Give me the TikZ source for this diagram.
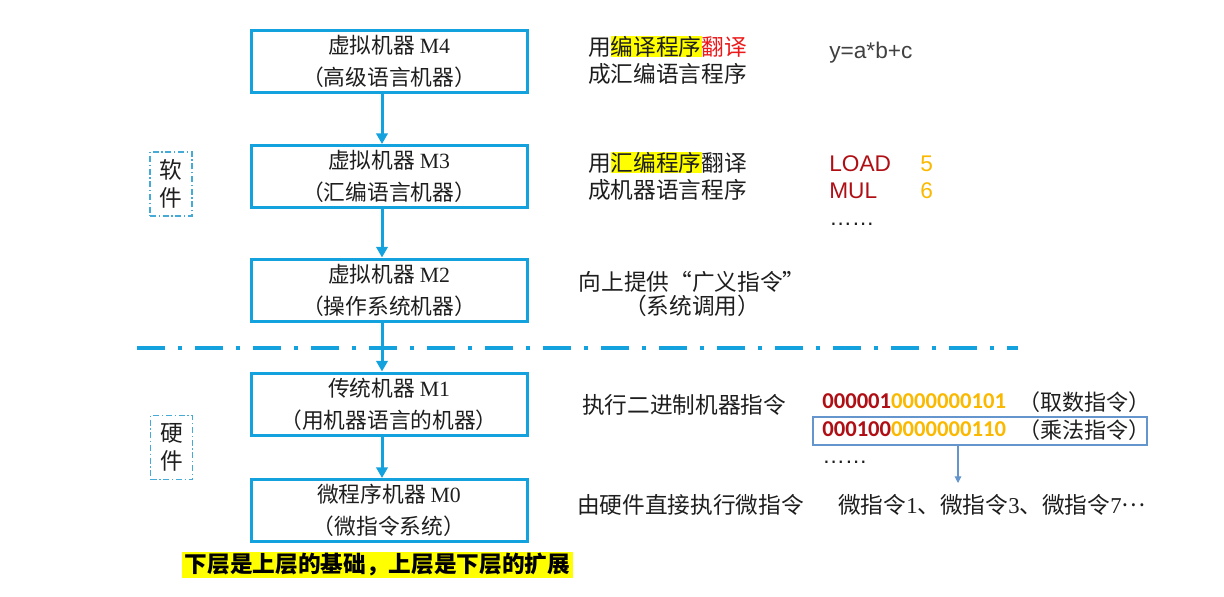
\documentclass[tikz,border=0pt]{standalone}
\usepackage{fontspec}
\setmainfont{Liberation Serif}
\newfontfamily\cjk{Noto Sans CJK SC}
\newfontfamily\lsans{Liberation Sans}
\newfontfamily\calib{Carlito}
\usetikzlibrary{arrows.meta}
\definecolor{boxblue}{RGB}{20,162,222}
\definecolor{softblue}{RGB}{70,170,215}
\definecolor{thinblue}{RGB}{100,150,205}
\definecolor{dred}{RGB}{175,15,20}
\definecolor{orng}{RGB}{250,185,0}
\definecolor{tred}{RGB}{235,25,25}
\definecolor{textgray}{RGB}{30,30,30}
\definecolor{hlyellow}{RGB}{255,255,0}
\newcommand\hlt[1]{{\setlength{\fboxsep}{0pt}\colorbox{hlyellow}{#1}}}
\begin{document}
\begin{tikzpicture}[x=0.75pt,y=-0.75pt,
  machine/.style={draw=boxblue,line width=2.25pt,minimum width=207pt,minimum height=46.5pt,
    align=center,inner sep=0pt,text=textgray,font=\cjk\fontsize{16.3}{24}\selectfont},
  flow/.style={draw=boxblue,line width=2.25pt,-{Triangle[length=8pt,width=8.5pt]}},
  sepline/.style={draw=boxblue,line width=2.6pt,dash pattern=on 21pt off 10pt on 2.5pt off 10pt},
  txt/.style={inner sep=0pt,text=textgray,font=\cjk\fontsize{17}{20.25}\selectfont},
  latin/.style={inner sep=0pt,font=\lsans\fontsize{17}{20}\selectfont},
  bin/.style={inner sep=0pt,font=\calib\bfseries\fontsize{17}{20}\selectfont},
  tag/.style={inner sep=0pt,text=textgray,font=\cjk\fontsize{16.5}{20}\selectfont},
  layer/.style={draw=softblue,line width=1.1pt,dash pattern=on 4.5pt off 2pt on 1pt off 2pt,
    minimum width=31.5pt,minimum height=48pt,inner sep=0pt,align=center,text=textgray,
    font=\cjk\fontsize{17}{21}\selectfont},
  thinarrow/.style={draw=thinblue,line width=0.8pt,-{Triangle[length=5pt,width=5pt]}}
]
\useasboundingbox (0,0) rectangle (1224,596);

% machine levels
\node[machine] (m4) at (389,61.5) {虚拟机器 {\rmfamily M4}\\（高级语言机器）};
\node[machine] (m3) at (389,176.5) {虚拟机器 {\rmfamily M3}\\（汇编语言机器）};
\node[machine] (m2) at (389,290) {虚拟机器 {\rmfamily M2}\\（操作系统机器）};
\node[machine] (m1) at (389,404) {传统机器 {\rmfamily M1}\\（用机器语言的机器）};
\node[machine] (m0) at (389,510.5) {微程序机器 {\rmfamily M0}\\（微指令系统）};

% separation line
\coordinate (sepL) at (137,348);
\coordinate (sepR) at (1018,348);
\draw[sepline] (sepL) -- (sepR);

% arrows
\coordinate (ax) at (382,0);
\draw[flow] (m4.south -| ax) -- (m3.north -| ax);
\draw[flow] (m3.south -| ax) -- (m2.north -| ax);
\draw[flow] (m2.south -| ax) -- (m1.north -| ax);
\draw[flow] (m1.south -| ax) -- (m0.north -| ax);

% layer labels
\node[layer] (soft) at (171,184) {软\\件};
\node[layer] (hard) at (171.5,447.5) {硬\\件};

% descriptions
\node[txt,align=left,anchor=west] (d4) at (588,60.5) {用\hlt{编译程序}\textcolor{tred}{翻译}\\成汇编语言程序};
\node[txt,align=left,anchor=west] (d3) at (588,176.5) {用\hlt{汇编程序}翻译\\成机器语言程序};
\node[txt,align=center,font=\cjk\fontsize{17}{18}\selectfont] (d2) at (692,294) {向上提供“广义指令”\\（系统调用）};
\node[txt,anchor=west] (d1) at (582,405) {执行二进制机器指令};
\node[txt,anchor=west] (d0) at (577,505) {由硬件直接执行微指令};

% examples
\node[latin,anchor=base west,text=textgray!85] (ex4) at (829,58) {y=a*b+c};
\node[latin,anchor=base west,text=dred] (load) at (829,171) {LOAD};
\node[latin,anchor=base west,text=orng] (five) at (920,171) {5};
\node[latin,anchor=base west,text=dred] (mul) at (829,198) {MUL};
\node[latin,anchor=base west,text=orng] (six) at (920,198) {6};
\node[latin,anchor=base west,text=textgray] (dots3) at (829,225) {……};

\node[bin,anchor=base west] (bin1) at (822,408) {\textcolor{dred}{000001}\textcolor{orng}{0000000101}};
\node[tag,anchor=west] (tag1) at (1018,402) {（取数指令）};
\node[draw=thinblue,line width=0.9pt,minimum width=250.5pt,minimum height=21pt,inner sep=0pt] (instbox) at (980,431) {};
\node[bin,anchor=base west] (bin2) at (822,436) {\textcolor{dred}{000100}\textcolor{orng}{0000000110}};
\node[tag,anchor=west] (tag2) at (1018,430) {（乘法指令）};
\node[latin,anchor=base west,text=textgray] (dots1) at (822,463) {……};

\coordinate (microarrow) at (958,483);
\draw[thinarrow] (instbox.south -| microarrow) -- (microarrow);

\node[txt,anchor=west] (micro) at (838,505) {微指令{\rmfamily 1}、微指令{\rmfamily 3}、微指令{\rmfamily 7}\raisebox{0.3em}{…}};

% bottom note
\node[fill=hlyellow,inner xsep=2pt,inner ysep=1pt,text=black,font=\cjk\bfseries\fontsize{17}{20}\selectfont] (note) at (377.5,565) {下层是上层的基础，上层是下层的扩展};
\end{tikzpicture}
\end{document}
